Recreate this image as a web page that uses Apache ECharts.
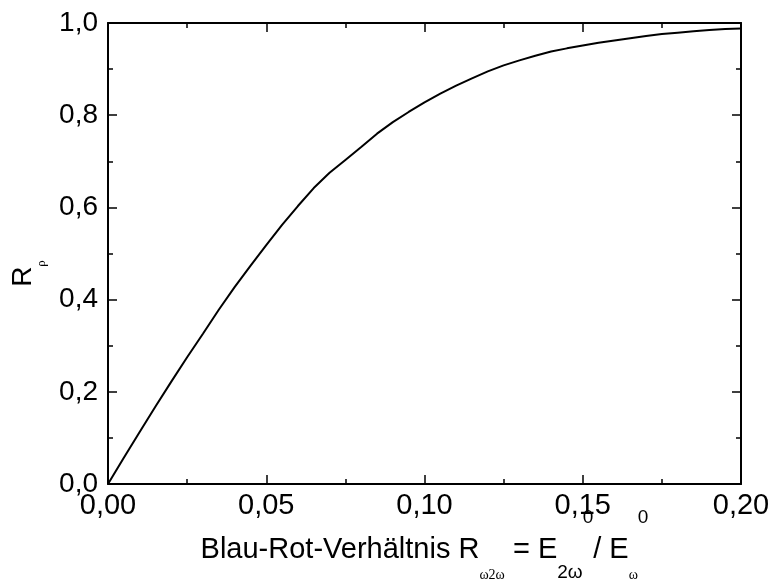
<!DOCTYPE html>
<html>
<head>
<meta charset="utf-8">
<script src="https://cdn.jsdelivr.net/npm/echarts@6/dist/echarts.min.js"></script>
<style>html,body{margin:0;padding:0;background:#fff}#c{width:771px;height:581px}</style>
</head>
<body>
<div id="c"></div>
<script>
var ratio = [0, 0.005, 0.01, 0.015, 0.02, 0.025, 0.03, 0.035, 0.04, 0.045, 0.05, 0.055, 0.06, 0.065, 0.07, 0.075, 0.08, 0.085, 0.09, 0.095, 0.10, 0.105, 0.11, 0.115, 0.12, 0.125, 0.13, 0.135, 0.14, 0.145, 0.15, 0.155, 0.16, 0.165, 0.17, 0.175, 0.18, 0.185, 0.19, 0.195, 0.20];
var rRho = [0, 0.057, 0.113, 0.168, 0.222, 0.275, 0.326, 0.378, 0.427, 0.473, 0.518, 0.562, 0.603, 0.642, 0.675, 0.703, 0.731, 0.760, 0.785, 0.807, 0.828, 0.847, 0.864, 0.880, 0.895, 0.908, 0.919, 0.929, 0.938, 0.945, 0.951, 0.957, 0.962, 0.967, 0.972, 0.976, 0.979, 0.982, 0.985, 0.987, 0.988];
var xTicks = ['0,00', '0,05', '0,10', '0,15', '0,20'];
var yTicks = ['0,0', '0,2', '0,4', '0,6', '0,8', '1,0'];

var FONT = 'Liberation Sans, Arial, sans-serif';
var data = ratio.map(function (x, i) { return [x, rRho[i]]; });
var axisLine = { show: true, onZero: false, lineStyle: { color: '#000', width: 2 } };
var tick = { show: true, inside: true, length: 9, lineStyle: { color: '#000', width: 1.5 } };
var minor = { show: true, splitNumber: 2, length: 5, lineStyle: { color: '#000', width: 1.5 } };

var chart = echarts.init(document.getElementById('c'));
chart.setOption({
  animation: false,
  backgroundColor: '#fff',
  grid: { left: 108, right: 30, top: 23, bottom: 97, containLabel: false, outerBoundsMode: 'none' },
  xAxis: [{
    type: 'value', min: 0, max: 0.2, interval: 0.05, position: 'bottom',
    axisLine: axisLine, axisTick: tick, minorTick: minor, splitLine: { show: false },
    axisLabel: {
      show: true, margin: 7, color: '#000', fontSize: 29, fontFamily: FONT,
      showMinLabel: true, showMaxLabel: true, hideOverlap: false,
      formatter: function (v) { return xTicks[Math.round(v / 0.05)]; }
    },
    name: 'Blau-Rot-Verhältnis R{s1|ω2ω} = E{s2|2ω}{sp|0}/ E{s1|ω}{sp|0}',
    nameLocation: 'middle', nameGap: 24, nameMoveOverlap: false,
    nameTextStyle: {
      color: '#000', fontSize: 29, fontFamily: FONT, lineHeight: 84,
      rich: {
        s1: { fontSize: 14, fontFamily: 'Liberation Serif, serif', color: '#000', verticalAlign: 'bottom', lineHeight: 16, padding: [0, 0, 10, 0] },
        s2: { fontSize: 19, fontFamily: FONT, color: '#000', verticalAlign: 'bottom', lineHeight: 18, padding: [0, 0, 10, 0] },
        sp: { fontSize: 19, fontFamily: FONT, color: '#000', verticalAlign: 'top', lineHeight: 16 }
      }
    }
  }, {
    type: 'value', min: 0, max: 0.2, interval: 0.05, position: 'top',
    axisLine: axisLine, axisTick: tick, minorTick: minor, splitLine: { show: false },
    axisLabel: { show: false }
  }],
  yAxis: [{
    type: 'value', min: 0, max: 1, interval: 0.2, position: 'left',
    axisLine: axisLine, axisTick: tick, minorTick: minor, splitLine: { show: false },
    axisLabel: {
      show: true, margin: 10, color: '#000', fontSize: 28, fontFamily: FONT,
      showMinLabel: true, showMaxLabel: true, hideOverlap: false,
      formatter: function (v) { return yTicks[Math.round(v / 0.2)]; }
    },
    name: 'R{s|ρ}',
    nameLocation: 'middle', nameGap: 60, nameRotate: 90,
    nameTextStyle: {
      color: '#000', fontSize: 28, fontFamily: FONT, lineHeight: 50,
      rich: {
        s: { fontSize: 13, fontFamily: 'Liberation Serif, serif', color: '#000', verticalAlign: 'bottom', lineHeight: 8, padding: [0, 40, 0, 0] }
      }
    }
  }, {
    type: 'value', min: 0, max: 1, interval: 0.2, position: 'right',
    axisLine: axisLine, axisTick: tick, minorTick: minor, splitLine: { show: false },
    axisLabel: { show: false }
  }],
  series: [{
    type: 'line', xAxisIndex: 0, yAxisIndex: 0, data: data,
    showSymbol: false, smooth: false,
    lineStyle: { color: '#000', width: 2 }
  }]
});
</script>
</body>
</html>
